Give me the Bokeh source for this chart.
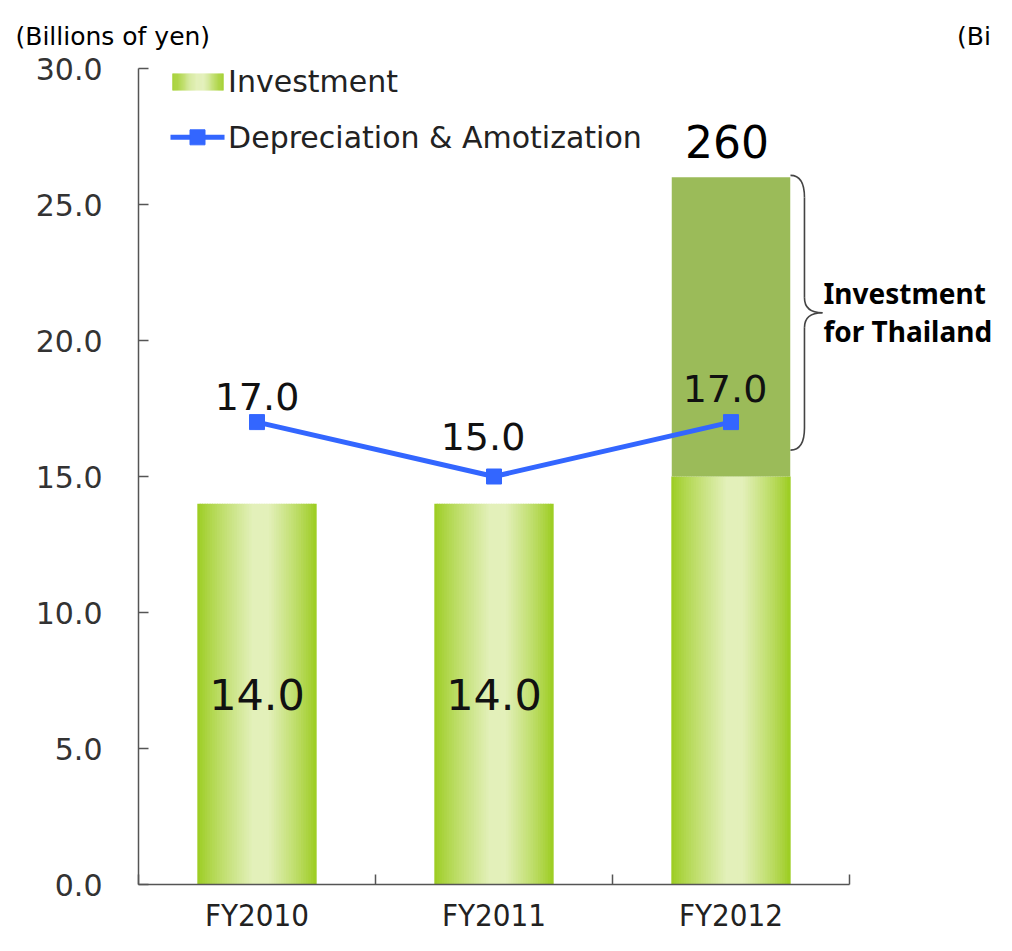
import numpy as np
from bokeh.plotting import figure
from bokeh.models import Range1d, FixedTicker, NumeralTickFormatter, ColumnDataSource
from bokeh.core.properties import value
from bokeh.embed import file_html
from bokeh.resources import INLINE

# ---------------- data ----------------
categories = ["FY2010", "FY2011", "FY2012"]
investment_base = [14.0, 14.0, 15.0]
investment_thailand = [0.0, 0.0, 11.0]
depreciation = [17.0, 15.0, 17.0]
inner_labels = ["14.0", "14.0", ""]
depr_labels = ["17.0", "15.0", "17.0"]
total_label = "260"
y_ticks = [0, 5, 10, 15, 20, 25, 30]
unit_label = "(Billions of yen)"
neighbour_label = "(Bi"
legend_labels = ["Investment", "Depreciation & Amotization"]
brace_text = ["Investment", "for Thailand"]

# label nudges (pixels, style only)
depr_dx = [0, -11, -6]
depr_dy = [-26, -40, -34]

# ---------------- style ----------------
EDGE = np.array([0x9B, 0xCC, 0x1E], dtype=float)
LIGHT = np.array([0xE3, 0xF0, 0xBA], dtype=float)
OLIVE = "#9BBB59"
BLUE = "#3366FF"
AXIS = "#555555"
FONT = "DejaVu Sans"
BOLDFONT = "Noto Sans"
NARROW = "Liberation Sans Narrow, DejaVu Sans Condensed, sans-serif"
BAR_W = 0.5
N_STRIPS = 48

W, H = 996, 935
F_LEFT, F_TOP, F_BOTTOM = 138, 68, 885


def grad_color(t):
    if t < 0.52:
        f = min(1.0, t / 0.47)
    else:
        f = min(1.0, (1.0 - t) / 0.40)
    f = f ** 0.85
    c = EDGE + (LIGHT - EDGE) * f
    return "#%02x%02x%02x" % tuple(int(round(v)) for v in c)


n = len(categories)
centers = [i + 0.5 for i in range(n)]
x_end = (W - F_LEFT) / 237.0

p = figure(width=W, height=H, output_backend="svg", toolbar_location=None,
           x_range=Range1d(0, x_end), y_range=Range1d(0, 30),
           min_border_left=F_LEFT, min_border_right=0, min_border_top=F_TOP,
           min_border_bottom=H - F_BOTTOM)
p.outline_line_color = None
p.xgrid.visible = False
p.ygrid.visible = False
p.background_fill_color = "white"

# title carries the unit text (and the neighbouring chart's cut-off unit text)
p.title.text = unit_label + "\u00a0" * 94 + neighbour_label
p.title.align = "left"
p.title.offset = -123
p.title.standoff = 36
p.title.text_font = FONT
p.title.text_font_size = "25px"
p.title.text_font_style = "normal"
p.title.text_color = "#000000"

# ---------------- gradient bars ----------------
xs, bots, tops, cols = [], [], [], []
sw = BAR_W / N_STRIPS
for c, top in zip(centers, investment_base):
    for k in range(N_STRIPS):
        t = (k + 0.5) / N_STRIPS
        xs.append(c - BAR_W / 2 + t * BAR_W)
        bots.append(0.0)
        tops.append(top)
        cols.append(grad_color(t))
src = ColumnDataSource(dict(x=xs, bottom=bots, top=tops, color=cols))
p.vbar(x="x", width=sw * 1.35, bottom="bottom", top="top", source=src,
       fill_color="color", line_color=None)

# Thailand part (solid olive)
th_x = [c for c, v in zip(centers, investment_thailand) if v > 0]
th_b = [b for b, v in zip(investment_base, investment_thailand) if v > 0]
th_t = [b + v for b, v in zip(investment_base, investment_thailand) if v > 0]
p.vbar(x=th_x, width=BAR_W, bottom=th_b, top=th_t, fill_color=OLIVE, line_color=None)

# ---------------- depreciation line ----------------
p.line(centers, depreciation, line_width=5, line_color=BLUE)
p.scatter(centers, depreciation, marker="square", size=15, fill_color=BLUE, line_color=BLUE)

# ---------------- labels ----------------
p.text(x=centers, y=depreciation, text=depr_labels, x_offset=depr_dx, y_offset=depr_dy,
       text_align="center", text_baseline="middle", text_color="#111111",
       text_font=value(FONT), text_font_size=value("38px"))

inner_y = [b / 2 for b in investment_base]
p.text(x=centers, y=inner_y, text=inner_labels, text_align="center", text_baseline="middle",
       text_color="#111111", text_font=value(FONT), text_font_size=value("43px"))

totals = [b + t for b, t in zip(investment_base, investment_thailand)]
p.text(x=[centers[-1]], y=[totals[-1]], text=[total_label], x_offset=[-4], y_offset=[-36],
       text_align="center", text_baseline="middle", text_color="#000000",
       text_font=value(FONT), text_font_size=value("44px"))

# ---------------- brace ----------------
b_top = 26.07
b_bot = 15.97
b_mid = (b_top + b_bot) / 2
x0b, x1b, tipb = 2.751, 2.810, 2.886
r, r2 = 0.81, 0.55
bc = "#444444"
p.quadratic(x0=[x0b, x1b, tipb, x1b], y0=[b_top, b_mid + r2, b_mid, b_bot + r],
            x1=[x1b, tipb, x1b, x0b], y1=[b_top - r, b_mid, b_mid - r2, b_bot],
            cx=[x1b, x1b, x1b, x1b], cy=[b_top, b_mid, b_mid, b_bot],
            line_color=bc, line_width=1.6)
p.segment(x0=[x1b, x1b], y0=[b_top - r, b_mid - r2], x1=[x1b, x1b], y1=[b_mid + r2, b_bot + r],
          line_color=bc, line_width=1.6)
p.text(x=[2.89, 2.89], y=[21.74, 20.34], text=brace_text, text_align="left",
       text_baseline="middle", text_color="#000000", text_font=value(BOLDFONT),
       text_font_size=value("28px"), text_font_style="bold")

# ---------------- manual legend ----------------
lx0, lx1 = 0.1435, 0.3586
ly0, ly1 = 29.19, 29.82
lxs, lcols = [], []
lsw = (lx1 - lx0) / N_STRIPS
for k in range(N_STRIPS):
    t = (k + 0.5) / N_STRIPS
    lxs.append(lx0 + t * (lx1 - lx0))
    lcols.append(grad_color(t))
p.vbar(x=lxs, width=lsw * 1.35, bottom=ly0, top=ly1, fill_color=lcols, line_color=None)
p.segment(x0=[0.135], y0=[27.47], x1=[0.363], y1=[27.47], line_color=BLUE, line_width=5)
p.scatter([0.249], [27.47], marker="square", size=15, fill_color=BLUE, line_color=BLUE)
p.text(x=[0.378, 0.378], y=[29.53, 27.47], text=legend_labels, text_align="left",
       text_baseline="middle", text_color="#222222", text_font=value(FONT),
       text_font_size=value("30px"))

# ---------------- axes ----------------
xa = p.xaxis[0]
xa.bounds = (0, 3)
xa.ticker = FixedTicker(ticks=centers, minor_ticks=[0, 1, 2, 3])
xa.major_label_overrides = {c: lab for c, lab in zip(centers, categories)}
xa.major_tick_line_color = None
xa.major_tick_in = 0
xa.major_tick_out = 0
xa.minor_tick_in = 10
xa.minor_tick_out = 0
xa.minor_tick_line_color = AXIS
xa.minor_tick_line_width = 1.5
xa.axis_line_color = AXIS
xa.axis_line_width = 1.5
xa.major_label_standoff = 12
xa.major_label_text_font = NARROW
xa.major_label_text_font_size = "31px"
xa.major_label_text_color = "#222222"

ya = p.yaxis[0]
ya.ticker = FixedTicker(ticks=y_ticks)
ya.formatter = NumeralTickFormatter(format="0.0")
ya.major_tick_in = 10
ya.major_tick_out = 0
ya.minor_tick_line_color = None
ya.major_tick_line_color = AXIS
ya.major_tick_line_width = 1.5
ya.axis_line_color = AXIS
ya.axis_line_width = 1.5
ya.major_label_standoff = 36
ya.major_label_text_font = FONT
ya.major_label_text_font_size = "30px"
ya.major_label_text_color = "#333333"

open("out.html", "w").write(file_html(p, INLINE, "chart"))
